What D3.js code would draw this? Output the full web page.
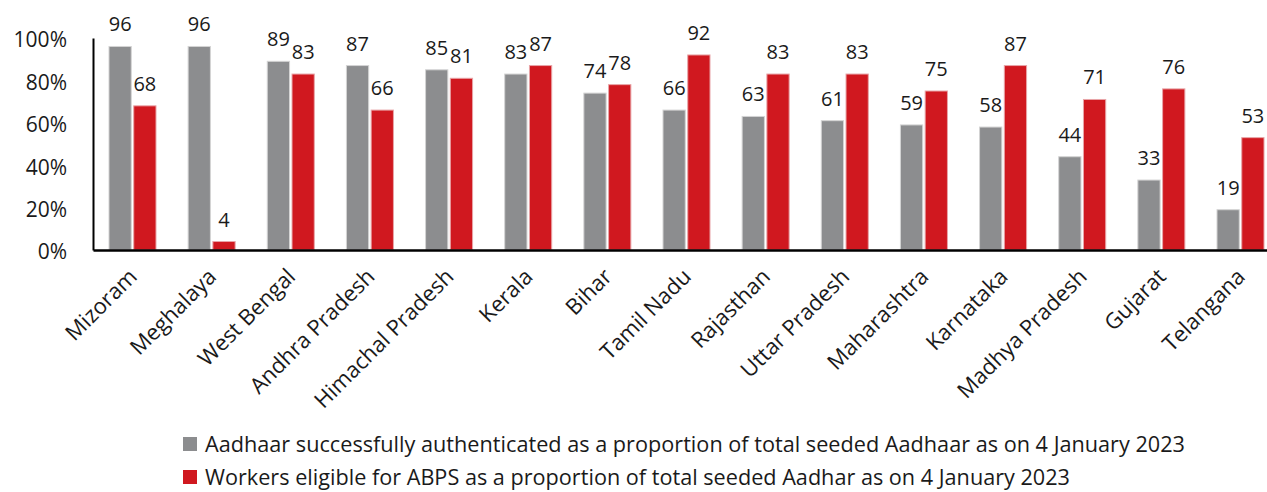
<!DOCTYPE html>
<html>
<head>
<meta charset="utf-8">
<script src="https://cdn.jsdelivr.net/npm/d3@7"></script>
<style>
  body { margin: 0; background: #fff; }
  text { font-family: "Open Sans", "DejaVu Sans", sans-serif; fill: #1a1a1a; }
</style>
</head>
<body>
<div id="vis-container"></div>
<script>
const states = ["Mizoram", "Meghalaya", "West Bengal", "Andhra Pradesh", "Himachal Pradesh", "Kerala", "Bihar",
    "Tamil Nadu", "Rajasthan", "Uttar Pradesh", "Maharashtra", "Karnataka", "Madhya Pradesh", "Gujarat", "Telangana"];
const authenticated = [96, 96, 89, 87, 85, 83, 74, 66, 63, 61, 59, 58, 44, 33, 19];
const eligible = [68, 4, 83, 66, 81, 87, 78, 92, 83, 83, 75, 87, 71, 76, 53];
const yTicks = [0, 20, 40, 60, 80, 100];
const seriesNames = [
    "Aadhaar successfully authenticated as a proportion of total seeded Aadhaar as on 4 January 2023",
    "Workers eligible for ABPS as a proportion of total seeded Aadhar as on 4 January 2023"
];
const seriesColors = ["#8c8d8f", "#d0181f"];

const width = 1267, height = 492;
const x0 = 93, x1 = 1280, yZero = 250, yTop = 38;

let svg = d3.select("#vis-container")
    .append("svg")
    .attr("width", width)
    .attr("height", height);

let x = d3.scaleBand()
    .domain(states)
    .range([x0, x1])
    .paddingInner(0.406)
    .paddingOuter(0.202);

let xs = d3.scaleBand()
    .domain([0, 1])
    .range([0, x.bandwidth()])
    .paddingInner(0.1);

let y = d3.scaleLinear()
    .domain([0, 100])
    .range([yZero, yTop]);

let rows = states.map((s, i) => ({state: s, values: [authenticated[i], eligible[i]]}));

let groups = svg.selectAll(".state")
    .data(rows)
    .enter().append("g")
    .attr("class", "state")
    .attr("transform", d => `translate(${x(d.state)},0)`);

groups.selectAll("rect")
    .data(d => d.values.map((v, k) => ({k: k, v: v})))
    .enter().append("rect")
    .attr("x", d => xs(d.k))
    .attr("width", xs.bandwidth())
    .attr("y", d => y(d.v))
    .attr("height", d => yZero - y(d.v))
    .attr("fill", d => seriesColors[d.k])
    .attr("stroke", d => d.k ? "#e8a5a8" : "#d4d4d4")
    .attr("stroke-width", 1);

groups.selectAll(".val")
    .data(d => d.values.map((v, k) => ({k: k, v: v})))
    .enter().append("text")
    .attr("class", "val")
    .attr("x", d => xs(d.k) + xs.bandwidth() / 2)
    .attr("y", d => y(d.v) - 15)
    .attr("text-anchor", "middle")
    .attr("font-size", 20)
    .text(d => d.v);

// y axis
let yAxis = svg.append("g")
    .attr("transform", `translate(${x0},0)`)
    .call(d3.axisLeft(y).tickValues(yTicks).tickSize(0).tickPadding(26).tickFormat(d => d + "%"));
yAxis.select(".domain").attr("stroke", "#000").attr("stroke-width", 2);
yAxis.selectAll("text")
    .attr("font-size", 21)
    .attr("fill", "#1a1a1a")
    .attr("dy", "0.42em")
    .style("font-family", "'Open Sans', sans-serif");

// x axis
let xAxis = svg.append("g")
    .attr("transform", `translate(0,${yZero})`)
    .call(d3.axisBottom(x).tickSize(0).tickSizeOuter(0));
xAxis.select(".domain").attr("stroke", "#000").attr("stroke-width", 2.5);
xAxis.selectAll("text")
    .attr("font-size", 22)
    .attr("fill", "#1a1a1a")
    .attr("text-anchor", "end")
    .attr("y", 0)
    .attr("dy", 0)
    .attr("transform", "translate(6,28) rotate(-45)")
    .style("font-family", "'Open Sans', sans-serif");

// legend
let legend = svg.append("g");
let legendRows = legend.selectAll("g")
    .data(seriesNames)
    .enter().append("g")
    .attr("transform", (d, i) => `translate(183,${437 + i * 33})`);
legendRows.append("rect")
    .attr("width", 14)
    .attr("height", 14)
    .attr("fill", (d, i) => seriesColors[i]);
legendRows.append("text")
    .attr("x", 22)
    .attr("y", 15)
    .attr("font-size", 21)
    .attr("textLength", (d, i) => i ? 865 : 980)
    .attr("lengthAdjust", "spacingAndGlyphs")
    .style("font-family", "'Liberation Sans Narrow', 'Open Sans', sans-serif")
    .text(d => d);
</script>
</body>
</html>
